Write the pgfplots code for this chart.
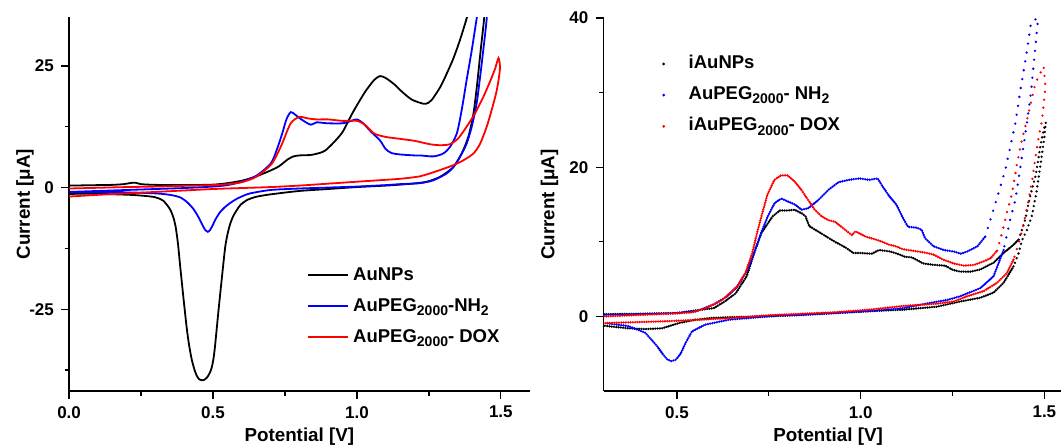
\documentclass[border=0pt]{standalone}
\usepackage{fontspec}
\setmainfont{Liberation Sans}
\usepackage{pgfplots}
\pgfplotsset{compat=1.18}

\newcommand{\sub}[1]{\raisebox{-4.5pt}{\fontsize{14}{14}\selectfont\bfseries #1}}
\newcommand{\tickfont}{\fontsize{17}{17}\selectfont\bfseries}
\newcommand{\labfont}{\fontsize{18.8}{18.8}\selectfont\bfseries}
\newcommand{\legfont}{\fontsize{18.5}{18.5}\selectfont\bfseries}

\pgfplotsset{
  cvbase/.style={
    scale only axis,
    axis x line*=bottom, axis y line*=left,
    axis line style={-, line width=1.4pt},
    tick align=outside,
    major tick length=8pt, minor tick length=4.5pt,
    tick style={line width=1.3pt, black},
    /pgf/number format/assume math mode=true,
    ticklabel style={font=\tickfont},
    xticklabel style={anchor=north, inner sep=0pt, yshift=-7pt},
    yticklabel style={anchor=east, inner sep=0pt, xshift=-7pt},
    every axis x label/.style={at={(axis description cs:0.5,0)}, anchor=base, yshift=-50.5pt, inner sep=0pt, font=\labfont},
    legend cell align=left,
  },
  cvline/.style={line width=1.8pt, smooth, tension=0.45},
  mainB/.style={line width=2.6pt, line cap=round, dash pattern=on 0pt off 2.3pt},
  steepB/.style={line width=2.6pt, line cap=round, dash pattern=on 0pt off #1},
}

\begin{document}
\begin{tikzpicture}
\useasboundingbox (0,0) rectangle (1061pt,445pt);
% ---------------- left panel ----------------
\begin{axis}[cvbase,
  at={(69.1pt,54pt)}, anchor=south west,
  width=460.5pt, height=373.8pt,
  xmin=0, xmax=1.6, ymin=-41.8, ymax=35,
  xtick={0,0.5,1,1.5}, xticklabels={0.0,0.5,1.0,1.5},
  minor xtick={0.25,0.75,1.25},
  ytick={-25,0,25}, yticklabels={-25,0,25},
  minor ytick={-37.5,-12.5,12.5},
  xlabel={Potential [V]}, ylabel={Current [μA]},
  every axis y label/.style={at={(axis description cs:-0.0853,0.5)}, anchor=base, rotate=90, inner sep=0pt, font=\labfont},
  legend style={at={(axis cs:0.8256,-16.31)}, anchor=north west, draw=none, fill=none,
    inner sep=0pt, outer sep=0pt, row sep=12.5pt, column sep=0pt, font=\legfont,
    nodes={inner sep=0pt, text height=13.5pt, text depth=5pt}},
  legend image code/.code={\path[draw=none] (0pt,0pt) -- (45.6pt,0pt); \draw[#1, line width=1.8pt, sharp plot] (0pt,1.35pt) -- (40pt,1.35pt);},
]
\addplot[black, cvline] coordinates {
(0,0.4) (0.05,0.45) (0.1,0.5) (0.15,0.55) (0.19,0.7) (0.21,0.9) (0.23,1.0) (0.25,0.7) (0.3,0.55) (0.4,0.5) (0.5,0.6) (0.55,0.9) (0.6,1.4) (0.65,2.3) (0.7,3.5) (0.73,4.4) (0.76,5.8) (0.78,6.4) (0.8,6.6) (0.84,6.7) (0.87,7.1) (0.89,7.6) (0.92,9.3) (0.95,11.4) (0.98,14.8) (1.0,16.9) (1.03,19.8) (1.06,22.1) (1.08,22.9) (1.1,22.5) (1.13,21.2) (1.16,19.5) (1.19,18.1) (1.22,17.4) (1.24,17.2) (1.26,18.0) (1.29,20.7) (1.312,23.4) (1.335,26.5) (1.358,30.3) (1.381,34.7) (1.395,38) (1.42,45)
(1.45,45) (1.445,38) (1.442,34.7) (1.43,28.2) (1.418,21.4) (1.405,15.2) (1.387,10.4) (1.364,7.0) (1.335,4.2) (1.289,2.2) (1.243,1.2) (1.2,0.85) (1.15,0.6) (1.1,0.4) (1.0,0.1) (0.9,-0.3) (0.8,-0.7) (0.7,-1.4) (0.65,-1.9) (0.617,-2.6) (0.595,-3.6) (0.582,-4.7) (0.57,-5.9) (0.559,-7.6) (0.55,-9.7) (0.542,-12.4) (0.53,-19) (0.518,-25.9) (0.507,-32.6) (0.501,-35.4) (0.495,-37.1) (0.487,-38.3) (0.478,-39.1) (0.47,-39.5) (0.461,-39.6) (0.452,-39.4) (0.443,-38.6) (0.435,-37.3) (0.426,-35.3) (0.417,-32.4) (0.409,-29.0) (0.397,-22.5) (0.385,-15.6) (0.378,-11.4) (0.37,-8.0) (0.362,-6.1) (0.35,-4.4) (0.327,-2.7) (0.3,-2.0) (0.26,-1.7) (0.212,-1.5) (0.1,-1.3) (0,-1.3)
};
\addlegendentry{AuNPs}
\addplot[blue, cvline] coordinates {
(0,-0.9) (0.1,-0.7) (0.2,-0.5) (0.3,-0.3) (0.4,-0.1) (0.5,0.2) (0.55,0.5) (0.6,1.2) (0.65,2.4) (0.7,4.9) (0.72,7.5) (0.74,11) (0.755,14.0) (0.77,15.5) (0.785,15.0) (0.8,14.3) (0.82,13.5) (0.84,12.9) (0.86,13.4) (0.88,13.3) (0.9,13.2) (0.95,13.2) (0.98,13.7) (1.0,14.0) (1.02,13.3) (1.05,11.4) (1.08,9.7) (1.1,7.9) (1.12,7.1) (1.15,6.8) (1.2,6.6) (1.22,6.6) (1.266,6.4) (1.3,7.0) (1.323,8.3) (1.347,11.1) (1.364,15.9) (1.381,22) (1.399,28.2) (1.416,34.7) (1.43,40) (1.44,45)
(1.46,45) (1.455,40) (1.451,34.7) (1.439,28.2) (1.428,22.7) (1.416,17.3) (1.399,12.5) (1.381,9.0) (1.358,6.3) (1.335,4.2) (1.312,2.9) (1.266,1.5) (1.219,0.9) (1.15,0.7) (1.1,0.5) (1.0,0.2) (0.9,0) (0.8,-0.2) (0.7,-0.5) (0.629,-1.2) (0.605,-1.7) (0.58,-2.4) (0.559,-3.2) (0.54,-4.1) (0.524,-5.1) (0.51,-6.4) (0.5,-7.6) (0.49,-8.7) (0.482,-9.1) (0.474,-8.8) (0.465,-7.9) (0.455,-6.7) (0.445,-5.6) (0.432,-4.4) (0.41,-3.0) (0.385,-2.0) (0.35,-1.5) (0.3,-1.2) (0.2,-1.0) (0,-0.9)
};
\addlegendentry{AuPEG\sub{2000}-NH\sub{2}}
\addplot[red, cvline] coordinates {
(0,-0.2) (0.1,-0.05) (0.2,0.1) (0.3,0.2) (0.4,0.35) (0.5,0.5) (0.55,0.7) (0.6,1.1) (0.65,2.2) (0.7,4.6) (0.72,6.5) (0.74,9.0) (0.77,13.2) (0.8,14.5) (0.83,14.2) (0.86,14.0) (0.9,14.0) (0.95,13.7) (1.0,13.7) (1.03,12.8) (1.06,11.1) (1.1,10.4) (1.15,10.0) (1.2,9.6) (1.254,8.9) (1.289,8.7) (1.323,8.9) (1.352,10.1) (1.381,12.5) (1.41,15.2) (1.439,18.6) (1.462,21.7) (1.48,24.4) (1.492,26.6) (1.497,24.4)
(1.486,20) (1.468,15.9) (1.451,12.5) (1.428,9.0) (1.405,7.0) (1.37,5.6) (1.335,4.6) (1.289,3.6) (1.243,2.7) (1.219,2.3) (1.15,1.8) (1.0,1.2) (0.9,0.8) (0.8,0.4) (0.7,0.1) (0.6,-0.1) (0.5,-0.3) (0.4,-0.6) (0.3,-0.9) (0.2,-1.2) (0.1,-1.5) (0,-1.85)
};
\addlegendentry{AuPEG\sub{2000}- DOX}
\end{axis}
% ---------------- right panel ----------------
\begin{axis}[cvbase,
  at={(603.5pt,54pt)}, anchor=south west,
  width=457.4pt, height=373pt,
  xmin=0.3, xmax=1.545, ymin=-10, ymax=40,
  xtick={0.5,1,1.5}, xticklabels={0.5,1.0,1.5},
  minor xtick={0.75,1.25},
  ytick={0,20,40}, yticklabels={0,20,40},
  minor ytick={10,30},
  xlabel={Potential [V]}, ylabel={Current [μA]},
  every axis x label/.style={at={(axis description cs:0.491,0)}, anchor=base, yshift=-50.5pt, inner sep=0pt, font=\labfont},
  every axis y label/.style={at={(axis description cs:-0.1073,0.5)}, anchor=base, rotate=90, inner sep=0pt, font=\labfont},
  legend style={at={(axis cs:0.4584,35.08)}, anchor=north west, draw=none, fill=none,
    inner sep=0pt, outer sep=0pt, row sep=12.7pt, column sep=0pt, font=\legfont,
    nodes={inner sep=0pt, text height=13.5pt, text depth=5pt}},
  legend image code/.code={\path[draw=none] (-2pt,0pt) -- (25pt,0pt); \fill[#1, draw=none] (0pt,0pt) circle (1.5pt);},
]
% iAuNPs
\addplot[black, mainB] coordinates {
(0.301,0.3) (0.4,0.35) (0.5,0.45) (0.55,0.8) (0.6,1.1) (0.63,2.0) (0.66,3.1) (0.69,5.4) (0.71,8.5) (0.73,11.2) (0.76,13.4) (0.78,14.2) (0.8,14.2) (0.82,14.3) (0.84,13.8) (0.85,13.4) (0.86,12.1) (0.9,10.9) (0.93,10.0) (0.96,9.2) (0.98,8.5) (1.0,8.5) (1.03,8.4) (1.05,8.9) (1.08,8.7) (1.1,8.4) (1.12,8.0) (1.14,7.9) (1.17,7.1) (1.2,6.9) (1.23,6.8) (1.25,6.25) (1.271,6.0) (1.3,6.0) (1.326,6.3) (1.362,7.2) (1.389,8.5) (1.416,9.6) (1.43,10.3)
};
\addlegendentry{iAuNPs}
\addplot[black, steepB=5pt, forget plot] coordinates {
(1.43,10.3) (1.439,11.6) (1.448,13) (1.457,15.2) (1.467,17.2) (1.476,18.8) (1.482,20.6) (1.489,22.8) (1.498,25) (1.504,26) (1.5,24) (1.49,20.5) (1.478,16.5) (1.466,13.5) (1.452,11.5) (1.439,10.2) (1.43,8.5) (1.416,6.7)
};
\addplot[black, mainB, forget plot] coordinates {
(1.416,6.7) (1.389,4.5) (1.362,3.2) (1.326,2.5) (1.271,2.0) (1.253,1.8) (1.207,1.3) (1.161,1.1) (1.115,0.9) (1.023,0.7) (0.93,0.45) (0.838,0.2) (0.746,0) (0.65,-0.1) (0.596,-0.2) (0.55,-0.45) (0.505,-0.9) (0.459,-1.6) (0.414,-1.7) (0.368,-1.6) (0.301,-1.25)
};
% AuPEG-NH2
\addplot[blue, mainB] coordinates {
(0.301,0.2) (0.4,0.3) (0.5,0.45) (0.553,0.7) (0.6,1.6) (0.637,2.7) (0.665,4.0) (0.692,6.25) (0.71,8.5) (0.729,11.2) (0.747,13.4) (0.766,15.2) (0.784,15.8) (0.802,15.4) (0.821,15.0) (0.839,14.3) (0.857,14.5) (0.885,15.6) (0.913,17.0) (0.94,18.0) (0.968,18.3) (0.996,18.5) (1.023,18.3) (1.046,18.5) (1.06,17.4) (1.078,16.1) (1.097,15.0) (1.115,13.2) (1.129,12.0) (1.152,11.9) (1.166,11.6) (1.175,10.5) (1.198,9.4) (1.226,8.9) (1.253,8.7) (1.272,8.4) (1.29,8.7) (1.318,9.4) (1.339,10.7)
};
\addlegendentry{AuPEG\sub{2000}- NH\sub{2}}
\addplot[blue, steepB=9pt, forget plot] coordinates {
(1.339,10.7) (1.367,15.2) (1.394,19.7) (1.421,25.9) (1.435,30.4) (1.453,35.7) (1.464,39.5) (1.483,40) (1.478,37.4) (1.473,34.9) (1.464,30.2) (1.453,26.1) (1.439,21.4) (1.421,15.6) (1.407,13) (1.389,8.9)
};
\addplot[blue, mainB, forget plot] coordinates {
(1.389,8.9) (1.362,5.4) (1.326,3.8) (1.271,2.7) (1.235,2.2) (1.188,1.8) (1.115,1.1) (1.023,0.7) (0.93,0.45) (0.838,0.2) (0.768,0.1) (0.7,-0.2) (0.641,-0.45) (0.577,-1.1) (0.541,-2.0) (0.523,-3.6) (0.51,-5.0) (0.497,-5.8) (0.485,-6.0) (0.474,-5.8) (0.462,-5.1) (0.446,-4.0) (0.414,-2.2) (0.368,-1.3) (0.305,-0.9)
};
% iAuPEG-DOX
\addplot[red, mainB] coordinates {
(0.301,0.0) (0.4,0.2) (0.5,0.4) (0.543,0.55) (0.577,1.1) (0.6,1.6) (0.623,2.2) (0.65,3.4) (0.663,4.0) (0.686,5.8) (0.705,8.5) (0.718,11.2) (0.732,13.8) (0.746,16.3) (0.765,18.3) (0.783,18.9) (0.801,18.9) (0.82,18.1) (0.838,17.0) (0.857,15.6) (0.875,14.3) (0.894,13.4) (0.912,12.9) (0.93,12.7) (0.958,11.6) (0.976,10.9) (0.986,11.4) (1.013,10.7) (1.041,10.3) (1.059,10.0) (1.078,9.6) (1.096,9.4) (1.115,9.0) (1.142,8.8) (1.17,8.6) (1.198,8.3) (1.225,7.6) (1.253,7.1) (1.281,6.8) (1.308,6.9) (1.336,7.4) (1.354,7.8) (1.371,8.8)
};
\addlegendentry{iAuPEG\sub{2000}- DOX}
\addplot[red, steepB=8pt, forget plot] coordinates {
(1.371,8.8) (1.385,11.2) (1.398,13.9) (1.412,16.5) (1.426,20.6) (1.439,23.7) (1.453,26.4) (1.465,29) (1.476,31.3) (1.487,32.4) (1.498,33.5) (1.503,30.8) (1.498,28.4) (1.494,26.4) (1.486,24.4) (1.476,21.4) (1.467,18.3) (1.457,15.6) (1.444,12.5) (1.43,9.8) (1.416,7.6)
};
\addplot[red, mainB, forget plot] coordinates {
(1.416,7.6) (1.398,5.8) (1.371,4.5) (1.335,3.4) (1.29,2.7) (1.253,2.0) (1.207,1.7) (1.115,1.4) (1.023,0.9) (0.93,0.55) (0.838,0.35) (0.746,0.15) (0.654,-0.2) (0.562,-0.45) (0.47,-0.65) (0.301,-0.9)
};
\end{axis}
\end{tikzpicture}
\end{document}
